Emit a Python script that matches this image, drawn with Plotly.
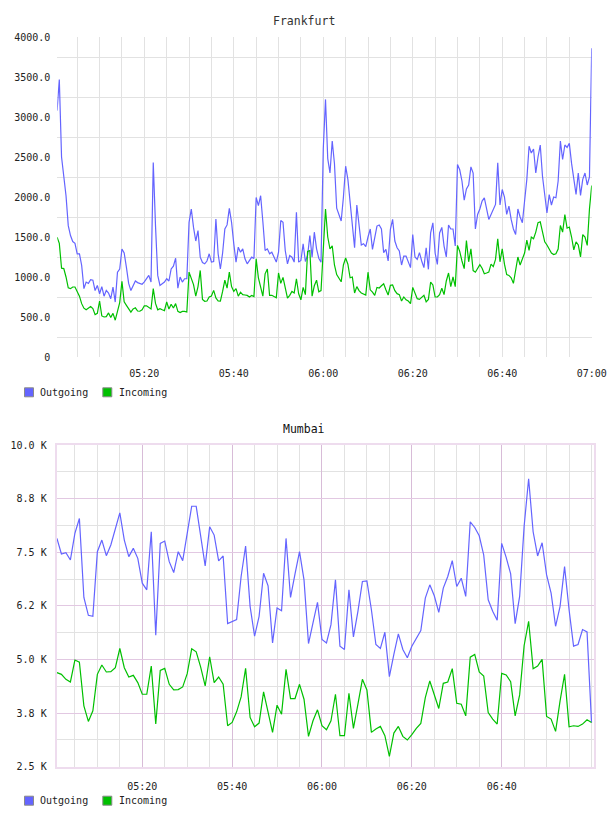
import plotly.graph_objects as go
import pandas as pd

# ---------------- data ----------------
fra_out = [
    3080, 3468, 2500, 2223, 2016, 1642, 1518, 1443, 1420, 1290,
    1290, 1144, 854, 937, 920, 966, 960, 830, 895, 791,
    880, 760, 833, 800, 729, 874, 687, 1061, 1100, 1350,
    1300, 1120, 920, 830, 900, 950, 930, 915, 910, 940,
    985, 1020, 937, 2431, 1642, 1020, 895, 916, 937, 978,
    950, 1100, 1136, 1235, 860, 999, 937, 978, 978, 1684,
    1850, 1620, 1450, 1580, 1248, 1180, 1165, 1200, 1290, 1186,
    1194, 1725, 1290, 1100, 1300, 1601, 1651, 1858, 1684, 1414,
    1186, 1373, 1310, 1352, 1227, 1165, 1206, 1248, 1230, 1995,
    1892, 2016, 1690, 1331, 1352, 1290, 1310, 1248, 1186, 1310,
    1705, 1684, 1331, 1165, 1269, 1248, 1186, 1808, 1186, 1206,
    1414, 1194, 1269, 1518, 1248, 1560, 1352, 1235, 1186, 2600,
    3220, 2480, 2300, 2700, 2419, 1860, 1780, 1700, 1995, 2385,
    2220, 1920, 1650, 1366, 1900, 1600, 1400, 1416, 1380, 1500,
    1600, 1345, 1500, 1637, 1650, 1600, 1304, 1345, 1200, 1595,
    1720, 1450, 1366, 1325, 1150, 1262, 1262, 1180, 1117, 1532,
    1250, 1221, 1304, 1200, 1117, 1366, 1096, 1553, 1678, 1300,
    1158, 1550, 1620, 1387, 1250, 1650, 1600, 1600, 1387, 2406,
    2340, 2200, 1960, 2100, 2150, 2377, 2300, 1600, 1782, 1850,
    1949, 1990, 1870, 1720, 1782, 1850, 1907, 2427, 1900, 2094,
    2000, 1782, 1886, 1720, 1600, 1532, 1850, 1750, 1678, 1950,
    2220, 2635, 2550, 2600, 2302, 2500, 2650, 2260, 2000, 1800,
    2030, 1900, 2000, 1990, 2200, 2700, 2469, 2650, 2620, 2670,
    2420, 2200, 2032, 2300, 2020, 2220, 2300, 2150, 2250, 3860,
]
fra_in = [
    1497, 1420, 1110, 1105, 1000, 865, 854, 875, 875, 825,
    760, 667, 610, 590, 605, 630, 605, 530, 545, 700,
    513, 500, 505, 551, 495, 545, 460, 570, 680, 945,
    690, 646, 596, 560, 600, 615, 575, 572, 590, 640,
    640, 620, 600, 854, 670, 590, 605, 590, 580, 688,
    600, 660, 613, 667, 570, 555, 570, 570, 563, 1061,
    990, 905, 760, 880, 1082, 720, 696, 700, 750, 762,
    833, 738, 700, 698, 820, 960, 860, 1061, 880, 820,
    854, 760, 810, 780, 775, 770, 750, 770, 755, 1227,
    990, 870, 760, 1040, 1100, 770, 771, 755, 740, 1050,
    920, 995, 870, 735, 771, 820, 800, 978, 790, 715,
    870, 780, 1320, 1331, 760, 890, 960, 815, 830, 1300,
    1850, 1500, 1350, 1390, 1150, 1030, 990, 940, 1150, 1237,
    1160, 990, 1000, 800, 880, 830, 800, 792, 775, 1060,
    840, 810, 770, 870, 862, 890, 916, 840, 775, 896,
    900, 830, 792, 780, 700, 750, 715, 700, 667, 870,
    790, 729, 720, 740, 770, 690, 720, 937, 900, 750,
    750, 780, 860, 780, 950, 1050, 880, 1000, 880, 1395,
    1320, 1200, 1104, 1457, 1190, 1353, 1080, 1060, 1110, 1155,
    1110, 1041, 1050, 1062, 1160, 1130, 1220, 1478, 1190, 1353,
    1160, 1030, 1020, 990, 920, 1104, 1250, 1150, 1228, 1300,
    1460, 1332, 1500, 1478, 1561, 1680, 1690, 1561, 1440, 1400,
    1350, 1300, 1280, 1291, 1350, 1644, 1561, 1780, 1610, 1624,
    1500, 1340, 1440, 1400, 1250, 1530, 1500, 1395, 1850, 2144,
]
mum_out = [
    7822, 7459, 7490, 7320, 7938, 8286, 6446, 6029, 6006, 7513,
    7784, 7420, 7668, 8016, 8418, 7784, 7397, 7590, 7358, 6779,
    6624, 7977, 5565, 7706, 7760, 7281, 7026, 7513, 7304, 7938,
    8572, 8572, 7900, 7181, 8093, 7900, 7297, 7413, 5836, 5890,
    5929, 6934, 7645, 6238, 5542, 6006, 7011, 6717, 5387, 6199,
    6137, 7822, 6446, 6996, 7513, 6856, 5372, 5851, 6330, 5465,
    5387, 5812, 6856, 5310, 5233, 6624, 5527, 6122, 6817, 6833,
    6160, 5349, 5256, 5635, 4599, 5117, 5596, 5233, 5040, 5310,
    5504, 5673, 6431, 6740, 6485, 6098, 6663, 6934, 7304, 6701,
    6895, 6469, 8209, 8077, 7884, 7436, 6392, 6122, 5913, 7706,
    7381, 6996, 5836, 6469, 8108, 9214, 7977, 7413, 7722, 6972,
    6547, 5774, 6238, 7165, 6160, 5310, 5349, 5697, 5643, 3532,
]
mum_in = [
    4692, 4653, 4537, 4475, 4986, 4939, 3919, 3555, 3803, 4653,
    4870, 4708, 4715, 4808, 5256, 4808, 4591, 4630, 4460, 4189,
    4189, 4846, 3494, 4746, 4792, 4421, 4290, 4297, 4359, 4669,
    5248, 5179, 4823, 4382, 5063, 4460, 4591, 4421, 3455, 3532,
    3780, 4127, 4792, 3648, 3432, 3517, 4243, 3764, 3300, 3934,
    3725, 4769, 4089, 4089, 4421, 4073, 3207, 3571, 3826, 3455,
    3362, 3571, 4189, 3223, 3223, 4213, 3393, 3957, 4537, 4290,
    3300, 3377, 3439, 3223, 2743, 3284, 3439, 3207, 3122, 3246,
    3393, 3509, 4112, 4499, 4151, 3857, 4444, 4475, 4785, 3980,
    3957, 3686, 5055, 5117, 4708, 4615, 3764, 3610, 3494, 4677,
    4638, 4483, 3686, 4174, 5326, 5890, 4785, 4846, 5001, 3671,
    3610, 3323, 4034, 4653, 3432, 3455, 3439, 3494, 3594, 3532,
]

fra_times = pd.date_range("2024-01-01 05:00:30", periods=len(fra_out), freq="30s")
mum_times = pd.date_range("2024-01-01 05:01:00", periods=len(mum_out), freq="1min")

series_names = ["Outgoing", "Incoming"]
series_colors = ["#6464ff", "#00c000"]

fra_x_ticktext = ["05:20", "05:40", "06:00", "06:20", "06:40", "07:00"]
mum_x_ticktext = ["05:20", "05:40", "06:00", "06:20", "06:40"]
fra_y_ticks = [0, 500, 1000, 1500, 2000, 2500, 3000, 3500, 4000]
fra_y_labels = ["0", "500.0", "1000.0", "1500.0", "2000.0", "2500.0", "3000.0", "3500.0", "4000.0"]
fra_y_grid = [250, 750, 1250, 1750, 2250, 2750, 3250, 3750]
mum_y_ticks = [2500, 3750, 5000, 6250, 7500, 8750, 10000]
mum_y_labels = ["2.5 K", "3.8 K", "5.0 K", "6.2 K", "7.5 K", "8.8 K", "10.0 K"]
mum_y_minor = [3125, 4375, 5625, 6875, 8125, 9375]

DAY = "2024-01-01 "
fra_x_tickvals = [DAY + t for t in fra_x_ticktext]
mum_x_tickvals = [DAY + t for t in mum_x_ticktext]

# ---------------- figure ----------------
W, H = 608, 816
FONT = "DejaVu Sans Mono"


def px(x):
    return x / W


def py(y):
    return 1 - y / H


fig = go.Figure()
for vals, name, col in zip([fra_out, fra_in], series_names, series_colors):
    fig.add_trace(go.Scatter(x=fra_times, y=vals, mode="lines", name=name,
                             line=dict(color=col, width=1.2), xaxis="x", yaxis="y",
                             showlegend=False))
for vals, name, col in zip([mum_out, mum_in], series_names, series_colors):
    fig.add_trace(go.Scatter(x=mum_times, y=vals, mode="lines", name=name,
                             line=dict(color=col, width=1.2), xaxis="x2", yaxis="y2",
                             showlegend=False))

grey = "#e2e2e2"
lav = "#e2c8e2"
lav_v = "#d8bcd8"
tickfont = dict(family=FONT, size=10, color="#222")

fig.update_layout(
    width=W, height=H,
    margin=dict(l=0, r=0, t=0, b=0, autoexpand=False),
    paper_bgcolor="white", plot_bgcolor="white",
    showlegend=False,
    xaxis=dict(domain=[px(57.3), px(591.7)], anchor="y", type="date", automargin=False,
               range=[DAY + "05:00:33", DAY + "07:00:00"],
               tickmode="array", tickvals=fra_x_tickvals, ticktext=fra_x_ticktext,
               showgrid=True, gridcolor=grey, gridwidth=1,
               minor=dict(dtick=300000, tick0=DAY + "05:00:00", showgrid=True,
                          gridcolor=grey, gridwidth=1),
               zeroline=False, showline=False, ticks="", tickfont=tickfont,
               ticklabelstandoff=9),
    yaxis=dict(domain=[py(357), py(37)], anchor="x", range=[0, 4000], automargin=False,
               tickmode="array", tickvals=fra_y_ticks, ticktext=fra_y_labels,
               showgrid=False,
               minor=dict(tickmode="array", tickvals=fra_y_grid, showgrid=True,
                          gridcolor=grey, gridwidth=1),
               zeroline=False, showline=False, ticks="", tickfont=tickfont,
               ticklabelstandoff=6),
    xaxis2=dict(domain=[px(56.7), px(594)], anchor="y2", type="date", automargin=False,
                range=[DAY + "05:00:57", DAY + "07:00:33"],
                tickmode="array", tickvals=mum_x_tickvals, ticktext=mum_x_ticktext,
                showgrid=True, gridcolor=lav_v, gridwidth=1,
                minor=dict(dtick=300000, tick0=DAY + "05:00:00", showgrid=True,
                           gridcolor=grey, gridwidth=1),
                zeroline=False, showline=True, mirror=True, linecolor="#eedcee",
                linewidth=2, ticks="", tickfont=tickfont, ticklabelstandoff=9),
    yaxis2=dict(domain=[py(766.7), py(445)], anchor="x2", range=[2500, 10000],
                automargin=False,
                tickmode="array", tickvals=mum_y_ticks, ticktext=mum_y_labels,
                showgrid=True, gridcolor=lav, gridwidth=1,
                minor=dict(tickmode="array", tickvals=mum_y_minor, showgrid=True,
                           gridcolor=grey, gridwidth=1),
                zeroline=False, showline=True, mirror=True, linecolor="#eedcee",
                linewidth=2, ticks="", tickfont=tickfont, ticklabelstandoff=6),
)

# titles
fig.add_annotation(text="Frankfurt", x=0.5, y=py(20.5), xref="paper", yref="paper",
                   xanchor="center", yanchor="middle", showarrow=False,
                   font=dict(family=FONT, size=11.5, color="#333"))
fig.add_annotation(text="Mumbai", x=0.5, y=py(429), xref="paper", yref="paper",
                   xanchor="center", yanchor="middle", showarrow=False,
                   font=dict(family=FONT, size=11.5, color="#111"))

# legends (swatch + label) under each chart
for ly in (392.3, 800.7):
    for sx, tx, name, col in zip((24.5, 102.8), (37.5, 116.8), series_names, series_colors):
        fig.add_shape(type="rect", xref="paper", yref="paper",
                      x0=px(sx), x1=px(sx + 9), y0=py(ly - 4.5), y1=py(ly + 4.5),
                      fillcolor=col, line=dict(color="#8a8a8a", width=1))
        fig.add_annotation(text=name, x=px(tx), y=py(ly), xref="paper", yref="paper",
                           xanchor="left", yanchor="middle", showarrow=False,
                           font=dict(family=FONT, size=10, color="#222"))

fig.write_html("out.html",
               post_script="document.body.style.margin='0';"
                           "document.documentElement.style.overflow='hidden';")
